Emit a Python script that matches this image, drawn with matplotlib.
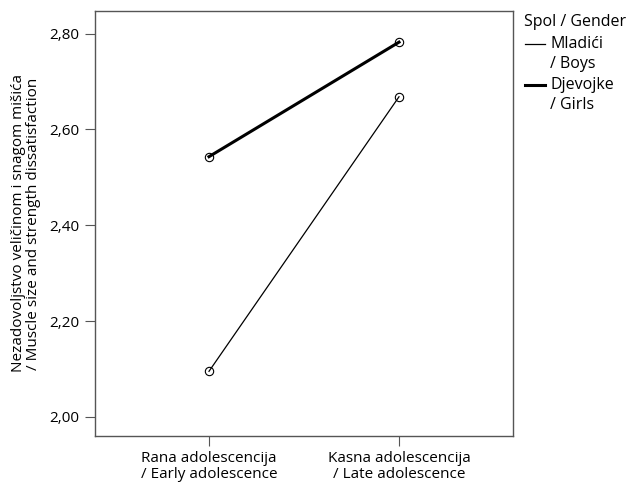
from matplotlib import pyplot as plt
from matplotlib.lines import Line2D

plt.rcParams['font.family'] = ['Open Sans', 'DejaVu Sans']

stages = ['Rana adolescencija\n/ Early adolescence', 'Kasna adolescencija\n/ Late adolescence']
boys = [2.095, 2.668]
girls = [2.543, 2.782]
y_ticks = [2.00, 2.20, 2.40, 2.60, 2.80]
legend_title = 'Spol / Gender'
legend_labels = [('Mladići', '/ Boys'), ('Djevojke', '/ Girls')]
legend_widths = [0.9, 2.2]

W, H = 626, 484
fig = plt.figure(figsize=(W / 100, H / 100), dpi=100)
ax = fig.add_axes([95 / W, 1 - 436 / H, 418 / W, 425 / H])

x = range(len(stages))
ax.plot(x, boys, 'k-', linewidth=legend_widths[0], marker='o', markersize=6,
        markerfacecolor='none', markeredgewidth=0.8)
ax.plot(x, girls, 'k-', linewidth=legend_widths[1], marker='o', markersize=6,
        markerfacecolor='none', markeredgewidth=0.8)

ax.set_xlim(-0.6, 1.6)
ax.set_ylim(1.96, 2.847)
ax.set_xticks(list(x))
ax.set_xticklabels(stages, fontsize=11, linespacing=1.05)
ax.set_yticks(y_ticks)
ax.set_yticklabels([f'{v:.2f}'.replace('.', ',') for v in y_ticks], fontsize=11)
ax.set_ylabel('Nezadovoljstvo veličinom i snagom mišića\n/ Muscle size and strength dissatisfaction',
              fontsize=11, linespacing=1.05, labelpad=6)

for s in ax.spines.values():
    s.set_color('#555555')
    s.set_linewidth(1.0)
ax.tick_params(colors='#555555', labelcolor='black', length=7, width=0.8, pad=4)

# legend drawn by hand so the sample line sits next to the first line of text
fig.text(524 / W, 1 - 22 / H, legend_title, fontsize=11.5, va='center', ha='left')
for i, (first, second) in enumerate(legend_labels):
    y0 = 44 + i * 41
    fig.add_artist(Line2D([525 / W, 545 / W], [1 - y0 / H, 1 - y0 / H],
                          color='black', linewidth=legend_widths[i]))
    fig.text(550 / W, 1 - y0 / H, first, fontsize=11.5, va='center', ha='left')
    fig.text(550 / W, 1 - (y0 + 20) / H, second, fontsize=11.5, va='center', ha='left')

plt.savefig('out.png', dpi=100)
